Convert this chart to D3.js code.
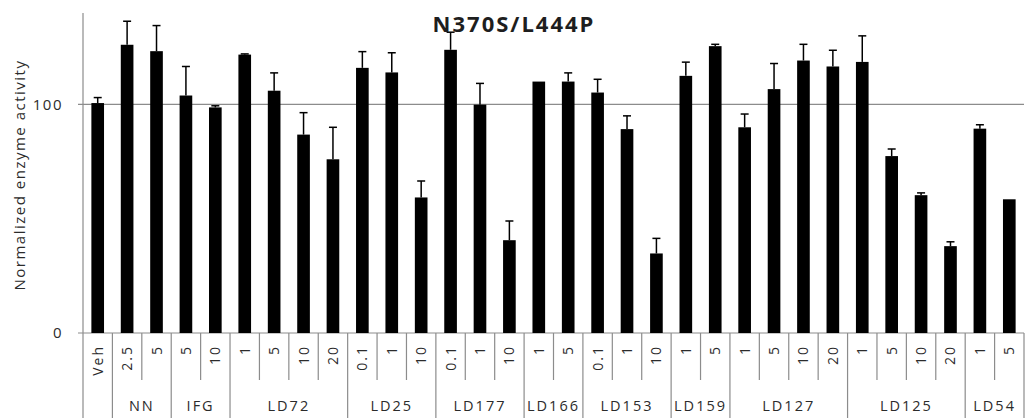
<!DOCTYPE html>
<html lang="en">

<head>
  <meta charset="UTF-8">
  <title>N370S/L444P</title>
  <script src="https://d3js.org/d3.v7.min.js"></script>
  <style>
    body { margin: 0; background: #fff; }
    text { font-family: "Open Sans", sans-serif; fill: #2b2b2b; }
  </style>
</head>

<body>
</body>
<script>
  const WIDTH = 1026;
  const HEIGHT = 418;

  // one entry per bar
  const doses = ['Veh', '2.5', '5', '5', '10', '1', '5', '10', '20', '0.1', '1', '10', '0.1', '1', '10',
    '1', '5', '0.1', '1', '10', '1', '5', '1', '5', '10', '20', '1', '5', '10', '20', '1', '5'];
  const values = [100.6, 126.1, 123.3, 103.9, 98.7, 121.8, 106, 86.8, 76, 116, 114, 59.3, 123.9, 99.9, 40.6,
    110, 110, 105.2, 89.2, 34.8, 112.5, 125.5, 90, 106.7, 119.2, 116.6, 118.6, 77.4, 60.3, 38, 89.4, 58.5];
  const errors = [2.4, 10.3, 11.2, 12.7, 0.7, 0.3, 7.8, 9.6, 14, 7.1, 8.6, 7.2, 7.7, 9.3, 8.4,
    0, 3.8, 5.8, 5.8, 6.6, 6, 0.8, 5.8, 11.2, 7.1, 7.1, 11.4, 3.1, 1, 1.9, 1.7, 0];

  // compound groups under the doses
  const groupNames = ['', 'NN', 'IFG', 'LD72', 'LD25', 'LD177', 'LD166', 'LD153', 'LD159', 'LD127', 'LD125', 'LD54'];
  const groupSizes = [1, 2, 2, 4, 3, 3, 2, 3, 2, 4, 4, 2];

  const yTicks = [0, 100];

  const plotLeft = 83, plotRight = 1024, plotTop = 13, base = 333;

  const x = d3.scaleBand()
    .domain(d3.range(values.length))
    .range([plotLeft, plotRight]);

  const y = d3.scaleLinear()
    .domain([0, 140])
    .range([base, plotTop]);

  const svg = d3.select('body')
    .append('svg')
    .attr('width', WIDTH)
    .attr('height', HEIGHT);

  const gray = '#8c8c8c';

  // gridline + y ticks
  svg.selectAll('.grid')
    .data(yTicks)
    .enter()
    .append('line')
    .attr('x1', plotLeft - 5)
    .attr('x2', plotRight)
    .attr('y1', d => y(d))
    .attr('y2', d => y(d))
    .attr('stroke', gray)
    .attr('stroke-width', 1.2);

  svg.selectAll('.ytick')
    .data(yTicks)
    .enter()
    .append('text')
    .attr('x', plotLeft - 20)
    .attr('y', d => y(d))
    .attr('dy', '0.35em')
    .attr('text-anchor', 'end')
    .attr('font-size', 15)
    .attr('letter-spacing', 1.5)
    .text(d => d);

  // y axis line
  svg.append('line')
    .attr('x1', plotLeft).attr('x2', plotLeft)
    .attr('y1', plotTop).attr('y2', HEIGHT)
    .attr('stroke', gray)
    .attr('stroke-width', 1.2);

  const bw = x.bandwidth() * 0.43;
  const cx = i => x(i) + x.bandwidth() / 2;

  // bars
  svg.selectAll('.bar')
    .data(values)
    .enter()
    .append('rect')
    .attr('x', (d, i) => cx(i) - bw / 2)
    .attr('y', d => y(d))
    .attr('width', bw)
    .attr('height', d => base - y(d))
    .attr('fill', '#000');

  // error bars (upper only)
  const err = svg.append('g')
    .attr('stroke', '#000')
    .attr('stroke-width', 1.5);
  values.forEach((v, i) => {
    if (!errors[i]) return;
    err.append('line')
      .attr('x1', cx(i)).attr('x2', cx(i))
      .attr('y1', y(v)).attr('y2', y(v + errors[i]));
    err.append('line')
      .attr('x1', cx(i) - 4).attr('x2', cx(i) + 4)
      .attr('y1', y(v + errors[i])).attr('y2', y(v + errors[i]));
  });

  // dose labels
  svg.selectAll('.dose')
    .data(doses)
    .enter()
    .append('text')
    .attr('transform', (d, i) => `translate(${cx(i) + 5},345) rotate(-90)`)
    .attr('text-anchor', 'end')
    .attr('font-size', 14)
    .attr('letter-spacing', 2)
    .text(d => d);

  // separators: inner ones short, group boundaries full height
  const bounds = [0];
  groupSizes.forEach(n => bounds.push(bounds[bounds.length - 1] + n));
  d3.range(1, values.length).forEach(i => {
    const full = bounds.includes(i);
    svg.append('line')
      .attr('x1', x(i)).attr('x2', x(i))
      .attr('y1', base).attr('y2', full ? HEIGHT : 380)
      .attr('stroke', gray)
      .attr('stroke-width', 1.2);
  });
  svg.append('line')
    .attr('x1', plotRight).attr('x2', plotRight)
    .attr('y1', base).attr('y2', HEIGHT)
    .attr('stroke', gray)
    .attr('stroke-width', 1.2);

  // group labels
  svg.selectAll('.group')
    .data(groupNames)
    .enter()
    .append('text')
    .attr('x', (d, i) => (x(bounds[i]) + (bounds[i + 1] < values.length ? x(bounds[i + 1]) : plotRight)) / 2)
    .attr('y', 411)
    .attr('text-anchor', 'middle')
    .attr('font-size', 14.5)
    .attr('letter-spacing', 2)
    .text(d => d);

  // title
  svg.append('text')
    .attr('x', 514)
    .attr('y', 32)
    .attr('text-anchor', 'middle')
    .attr('font-size', 22)
    .attr('font-weight', 'bold')
    .attr('letter-spacing', 2)
    .style('fill', '#1e1e1e')
    .text('N370S/L444P');

  // y axis title
  svg.append('text')
    .attr('transform', 'translate(25,175) rotate(-90)')
    .attr('text-anchor', 'middle')
    .attr('font-size', 15)
    .attr('letter-spacing', 1.5)
    .text('Normalized enzyme activity');
</script>

</html>
